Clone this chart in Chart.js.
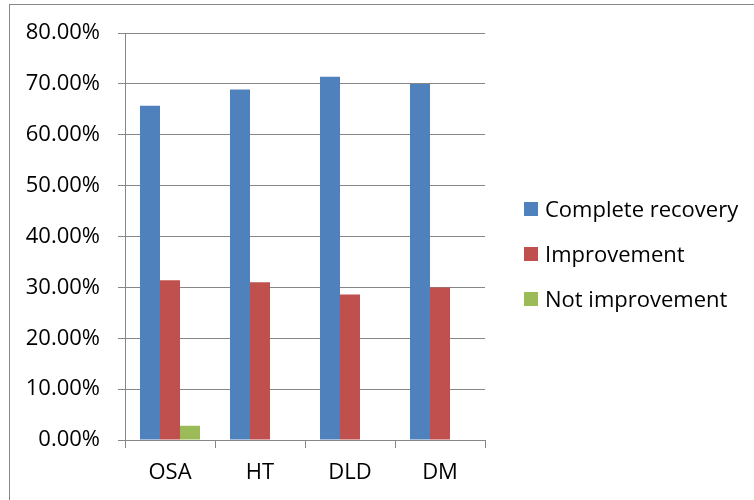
<!DOCTYPE html>
<html>
<head>
<meta charset="utf-8">
<script src="https://cdn.jsdelivr.net/npm/chart.js@4/dist/chart.umd.min.js"></script>
<style>
  html, body { margin: 0; padding: 0; background: #ffffff; }
  #wrap { width: 754px; height: 500px; position: relative; }
</style>
</head>
<body>
<div id="wrap"><canvas id="chart" width="754" height="500"></canvas></div>
<script>
// Outcome shares by group (percent)
const categories = ['OSA', 'HT', 'DLD', 'DM'];
const completeRecovery = [65.7, 68.9, 71.4, 70.0];
const improvement = [31.4, 31.0, 28.6, 30.0];
const notImprovement = [2.8, 0, 0, 0];
const seriesNames = ['Complete recovery', 'Improvement', 'Not improvement'];
const yTicks = [0, 10, 20, 30, 40, 50, 60, 70, 80];

const FONT = '"Open Sans", Lato, sans-serif';
const FONT_SIZE = 22;
const AXIS_GRAY = '#868686';

// Frame around the whole chart (only the top and left edges fall inside the canvas)
const framePlugin = {
  id: 'frame',
  beforeDraw(chart) {
    const ctx = chart.ctx;
    ctx.save();
    ctx.fillStyle = '#ffffff';
    ctx.fillRect(0, 0, chart.width, chart.height);
    ctx.strokeStyle = AXIS_GRAY;
    ctx.lineWidth = 1;
    ctx.strokeRect(9.5, 4.5, chart.width + 20, chart.height + 20);
    ctx.restore();
  }
};

// Legend drawn to the right of the plot
const sideLegend = {
  id: 'sideLegend',
  afterDraw(chart) {
    const ctx = chart.ctx;
    ctx.save();
    ctx.font = FONT_SIZE + 'px ' + FONT;
    ctx.textBaseline = 'middle';
    ctx.textAlign = 'left';
    const x0 = 524, yc0 = 209, step = 45, box = 14;
    chart.data.datasets.forEach((ds, i) => {
      const yc = yc0 + i * step;
      ctx.fillStyle = ds.backgroundColor;
      ctx.fillRect(x0, Math.round(yc - box / 2), box, box);
      ctx.fillStyle = '#000000';
      ctx.fillText(ds.label, 545, yc + 2);
    });
    ctx.restore();
  }
};

new Chart(document.getElementById('chart'), {
  type: 'bar',
  data: {
    labels: categories,
    datasets: [
      { label: seriesNames[0], data: completeRecovery, backgroundColor: '#4F81BD' },
      { label: seriesNames[1], data: improvement, backgroundColor: '#C0504D' },
      { label: seriesNames[2], data: notImprovement, backgroundColor: '#9BBB59' }
    ]
  },
  options: {
    responsive: false,
    animation: false,
    devicePixelRatio: 1,
    layout: { padding: { top: 33, right: 269, bottom: 0, left: 0 } },
    datasets: { bar: { categoryPercentage: 0.667, barPercentage: 1.0, borderWidth: 0 } },
    plugins: {
      legend: { display: false },
      tooltip: { enabled: false }
    },
    scales: {
      x: {
        offset: true,
        grid: {
          offset: true,
          drawOnChartArea: false,
          drawTicks: true,
          tickLength: 8,
          color: AXIS_GRAY,
          lineWidth: 1
        },
        border: { display: true, color: AXIS_GRAY, width: 1 },
        ticks: { color: '#000000', font: { family: FONT, size: FONT_SIZE }, padding: 12, maxRotation: 0 },
        afterFit(scale) { scale.height = 60; }
      },
      y: {
        min: 0,
        max: 80,
        afterBuildTicks(scale) { scale.ticks = yTicks.map(v => ({ value: v })); },
        grid: {
          color: AXIS_GRAY,
          lineWidth: 1,
          drawTicks: true,
          tickLength: 7
        },
        border: { display: true, color: AXIS_GRAY, width: 1 },
        ticks: {
          color: '#000000',
          font: { family: FONT, size: FONT_SIZE },
          padding: 18,
          callback: v => Number(v).toFixed(2) + '%'
        },
        afterFit(scale) { scale.width = 125; }
      }
    }
  },
  plugins: [framePlugin, sideLegend]
});
</script>
</body>
</html>
